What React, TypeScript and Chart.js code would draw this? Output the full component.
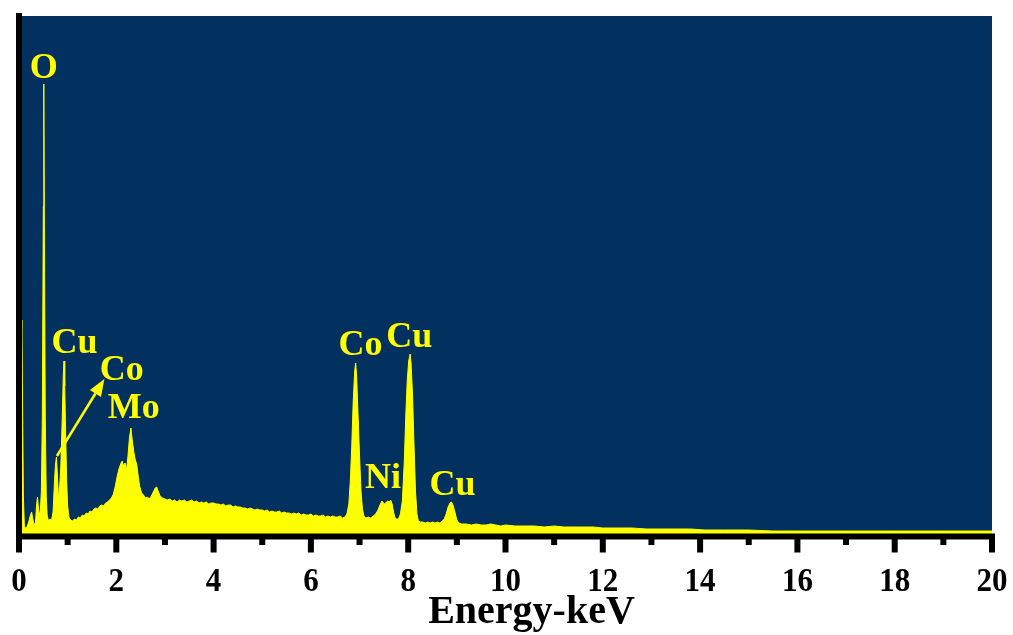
import { useEffect, useRef } from 'react';
import { Chart, registerables } from 'chart.js';

Chart.register(...registerables);

// EDS spectrum: photon energy (keV) and detector counts
const energyKeV = [
  0.0, 0.03, 0.06, 0.075, 0.09, 0.11, 0.14, 0.17, 0.2, 0.23, 0.26, 0.28, 0.31, 0.34, 0.36, 0.38, 0.4, 0.42, 0.44,
  0.46, 0.48, 0.5, 0.51, 0.52, 0.54, 0.56, 0.58, 0.61, 0.64, 0.67, 0.7, 0.73, 0.75, 0.77, 0.79, 0.81, 0.83, 0.86, 0.89,
  0.91, 0.925, 0.94, 0.96, 0.98, 1.0, 1.03, 1.06, 1.1, 1.14, 1.18, 1.22, 1.26, 1.3, 1.34, 1.38, 1.42, 1.46, 1.5, 1.54,
  1.58, 1.62, 1.66, 1.7, 1.74, 1.78, 1.82, 1.86, 1.9, 1.94, 1.98, 2.02, 2.06, 2.09, 2.12, 2.15, 2.18, 2.21, 2.24, 2.27,
  2.3, 2.33, 2.36, 2.39, 2.42, 2.45, 2.48, 2.52, 2.56, 2.6, 2.64, 2.68, 2.72, 2.76, 2.8, 2.83, 2.86, 2.9, 2.95, 3.0,
  3.05, 3.1, 3.15, 3.2, 3.25, 3.3, 3.35, 3.4, 3.45, 3.5, 3.55, 3.6, 3.65, 3.7, 3.75, 3.8, 3.85, 3.9, 3.95, 4.0,
  4.05, 4.1, 4.15, 4.2, 4.25, 4.3, 4.35, 4.4, 4.45, 4.5, 4.55, 4.6, 4.65, 4.7, 4.75, 4.8, 4.85, 4.9, 4.95, 5.0,
  5.05, 5.1, 5.15, 5.2, 5.25, 5.3, 5.35, 5.4, 5.45, 5.5, 5.55, 5.6, 5.65, 5.7, 5.75, 5.8, 5.85, 5.9, 5.95, 6.0,
  6.05, 6.1, 6.15, 6.2, 6.25, 6.3, 6.35, 6.4, 6.45, 6.5, 6.55, 6.6, 6.65, 6.7, 6.74, 6.78, 6.81, 6.84, 6.87, 6.9,
  6.92, 6.94, 6.97, 7.0, 7.03, 7.06, 7.09, 7.13, 7.18, 7.23, 7.28, 7.33, 7.38, 7.42, 7.46, 7.49, 7.52, 7.55, 7.58, 7.61,
  7.64, 7.67, 7.7, 7.73, 7.76, 7.8, 7.84, 7.88, 7.92, 7.95, 7.98, 8.01, 8.04, 8.06, 8.09, 8.12, 8.15, 8.18, 8.21, 8.25,
  8.3, 8.35, 8.4, 8.45, 8.5, 8.55, 8.6, 8.65, 8.7, 8.74, 8.78, 8.82, 8.86, 8.89, 8.92, 8.96, 9.0, 9.04, 9.1, 9.2,
  9.3, 9.4, 9.5, 9.6, 9.7, 9.8, 9.9, 10.0, 10.2, 10.4, 10.6, 10.8, 11.0, 11.2, 11.4, 11.6, 11.8, 12.0, 12.3, 12.6,
  12.9, 13.2, 13.5, 13.8, 14.1, 14.5, 15.0, 15.5, 16.0, 17.0, 18.0, 19.0, 20.0,
];

const counts = [
  600, 1500, 2160, 1200, 400, 100, 70, 100, 140, 200, 240, 180, 110, 140, 300, 390, 280, 210, 260,
  450, 1200, 3300, 4520, 3300, 1200, 400, 200, 150, 170, 160, 240, 550, 720, 790, 600, 400, 440, 700, 1200,
  1600, 1750, 1500, 1000, 550, 300, 180, 160, 150, 170, 160, 190, 180, 210, 200, 230, 220, 250, 240, 270,
  280, 270, 300, 310, 300, 330, 340, 360, 380, 420, 500, 600, 680, 720, 750, 700, 730, 660, 800, 980,
  1080, 950, 840, 760, 720, 600, 500, 430, 410, 380, 390, 370, 400, 440, 480, 490, 450, 400, 380, 370,
  360, 370, 350, 360, 340, 360, 350, 360, 340, 350, 360, 340, 350, 330, 340, 330, 340, 320, 330, 330,
  320, 320, 310, 320, 300, 310, 310, 290, 300, 290, 290, 280, 280, 270, 280, 270, 260, 270, 260, 260,
  250, 260, 240, 250, 240, 240, 250, 230, 240, 230, 230, 220, 230, 220, 230, 210, 220, 210, 210, 220,
  200, 210, 200, 200, 210, 190, 200, 190, 200, 190, 190, 200, 180, 190, 220, 320, 550, 900, 1350, 1650,
  1730, 1600, 1200, 800, 450, 270, 200, 180, 190, 180, 200, 220, 260, 310, 350, 330, 320, 340, 350, 340,
  360, 320, 240, 180, 170, 170, 220, 350, 750, 1200, 1550, 1750, 1820, 1720, 1400, 900, 450, 220, 150, 140,
  140, 130, 140, 130, 140, 130, 140, 130, 150, 170, 220, 290, 330, 340, 310, 240, 160, 130, 120, 120,
  110, 120, 110, 110, 120, 110, 100, 110, 100, 100, 100, 90, 100, 90, 90, 90, 90, 80, 80, 80,
  70, 70, 70, 70, 60, 60, 60, 50, 50, 50, 50, 50, 50,
];

// Axis ticks (keV): every value gets a tick mark, only the even ones carry a label
const xTickValues = [0, 1, 2, 3, 4, 5, 6, 7, 8, 9, 10, 11, 12, 13, 14, 15, 16, 17, 18, 19, 20];
const xTickLabels = ['0', '2', '4', '6', '8', '10', '12', '14', '16', '18', '20'];
const xLabelValues = [0, 2, 4, 6, 8, 10, 12, 14, 16, 18, 20];

// Element labels: text, centre energy (keV), baseline height (counts)
const peakLabelText = ['O', 'Cu', 'Co', 'Mo', 'Co', 'Cu', 'Ni', 'Cu'];
const peakLabelEnergy = [0.51, 1.14, 2.11, 2.36, 7.02, 8.02, 7.48, 8.91];
const peakLabelCounts = [4580, 1830, 1560, 1180, 1810, 1890, 480, 410];

// Arrow pointing from the Co L line to its label
const arrowStart = [0.78, 800];
const arrowEnd = [1.755, 1570];

const PLOT_BG = '#02305F';
const SPECTRUM = '#FFFF00';
const SERIF = '"Liberation Serif", "Times New Roman", serif';

const decorPlugin = {
  id: 'spectrumDecor',
  beforeDatasetsDraw(chart: any) {
    const { ctx, chartArea } = chart;
    ctx.save();
    ctx.fillStyle = PLOT_BG;
    ctx.fillRect(chartArea.left, chartArea.top, chartArea.right - chartArea.left, chartArea.bottom - chartArea.top);
    ctx.restore();
  },
  afterDatasetsDraw(chart: any) {
    const { ctx, chartArea } = chart;
    const xs = chart.scales.x;
    const ys = chart.scales.y;
    ctx.save();

    // element labels
    ctx.fillStyle = SPECTRUM;
    ctx.font = `bold 36px ${SERIF}`;
    ctx.textAlign = 'center';
    ctx.textBaseline = 'alphabetic';
    peakLabelText.forEach((t, i) => {
      ctx.fillText(t, xs.getPixelForValue(peakLabelEnergy[i]), ys.getPixelForValue(peakLabelCounts[i]));
    });

    // arrow
    const x0 = xs.getPixelForValue(arrowStart[0]);
    const y0 = ys.getPixelForValue(arrowStart[1]);
    const x1 = xs.getPixelForValue(arrowEnd[0]);
    const y1 = ys.getPixelForValue(arrowEnd[1]);
    const ang = Math.atan2(y1 - y0, x1 - x0);
    const headLen = 17;
    const headHalf = 6.5;
    const bx = x1 - headLen * Math.cos(ang);
    const by = y1 - headLen * Math.sin(ang);
    ctx.strokeStyle = SPECTRUM;
    ctx.lineWidth = 2.5;
    ctx.beginPath();
    ctx.moveTo(x0, y0);
    ctx.lineTo(bx, by);
    ctx.stroke();
    ctx.beginPath();
    ctx.moveTo(x1, y1);
    ctx.lineTo(bx + headHalf * Math.sin(ang), by - headHalf * Math.cos(ang));
    ctx.lineTo(bx - headHalf * Math.sin(ang), by + headHalf * Math.cos(ang));
    ctx.closePath();
    ctx.fill();

    // axes
    const { left, right, top, bottom } = chartArea;
    ctx.fillStyle = '#000000';
    ctx.fillRect(left - 3, top - 3, 6, bottom - top + 6.5);
    ctx.fillRect(left - 3, bottom - 2.5, right - left + 6, 6);
    xTickValues.forEach((v) => {
      const px = xs.getPixelForValue(v);
      const major = v % 2 === 0;
      ctx.fillRect(px - 3, bottom, 6, major ? 16.5 : 9);
    });

    // tick labels (slightly tall bold serif digits)
    ctx.font = `bold 31px ${SERIF}`;
    ctx.textAlign = 'center';
    xLabelValues.forEach((v, i) => {
      ctx.save();
      ctx.translate(xs.getPixelForValue(v), bottom + 54.5);
      ctx.scale(1, 1.12);
      ctx.fillText(xTickLabels[i], 0, 0);
      ctx.restore();
    });

    ctx.font = `bold 40px ${SERIF}`;
    ctx.fillText('Energy-keV', (left + right) / 2 + 26, bottom + 87);
    ctx.restore();
  },
};

export default function App() {
  const canvasRef = useRef<HTMLCanvasElement | null>(null);

  useEffect(() => {
    if (!canvasRef.current) return;
    const chart = new Chart(canvasRef.current, {
      type: 'line',
      data: {
        datasets: [
          {
            data: energyKeV.map((e, i) => ({ x: e, y: counts[i] })),
            borderColor: SPECTRUM,
            backgroundColor: SPECTRUM,
            borderWidth: 1,
            pointRadius: 0,
            tension: 0,
            fill: 'origin',
          },
        ],
      },
      options: {
        responsive: false,
        animation: false,
        layout: { padding: { left: 19, top: 16, right: 21, bottom: 99 } },
        plugins: { legend: { display: false }, tooltip: { enabled: false } },
        scales: {
          x: { type: 'linear', min: 0, max: 20, display: false },
          y: { type: 'linear', min: 0, max: 5200, display: false },
        },
      },
      plugins: [decorPlugin],
    });
    return () => chart.destroy();
  }, []);

  return (
    <div style={{ position: 'absolute', left: 0, top: 0, width: 1013, height: 635, background: '#ffffff' }}>
      <canvas ref={canvasRef} width={1013} height={635} style={{ display: 'block' }} />
    </div>
  );
}
